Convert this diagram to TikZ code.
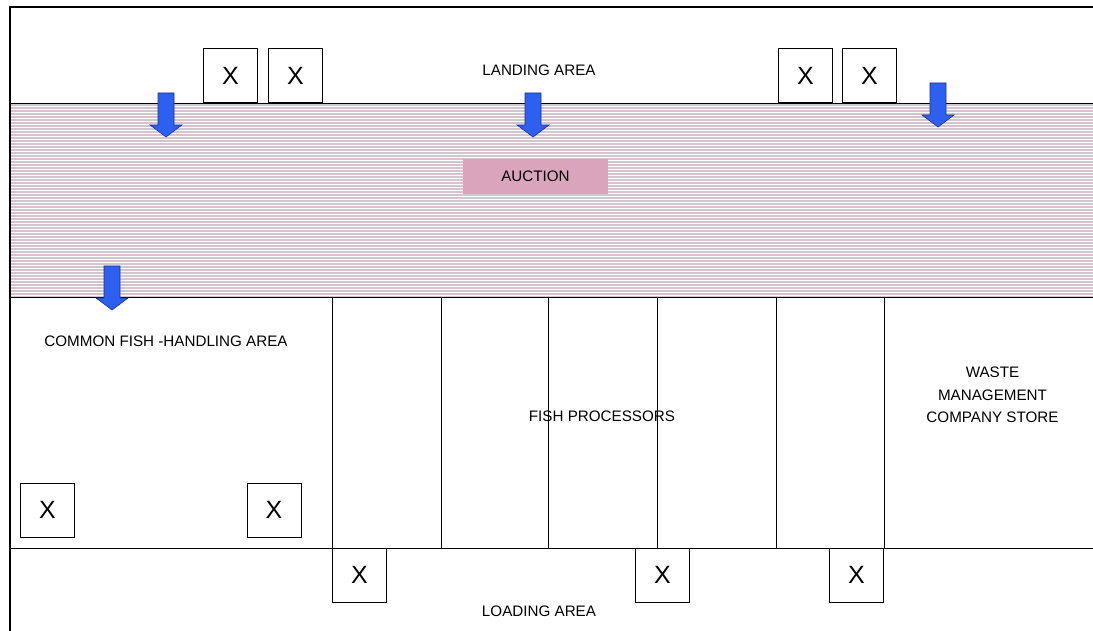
\documentclass[tikz,border=0pt]{standalone}
\usepackage{fontspec}
\setmainfont{Liberation Sans}
\usepackage{tikz}
\usetikzlibrary{positioning}

\definecolor{stripepink}{RGB}{212,196,208}
\definecolor{auctionpink}{RGB}{218,164,188}
\definecolor{arrowblue}{RGB}{45,95,240}
\definecolor{arrowedge}{RGB}{30,50,140}

\tikzset{
  label/.style={font=\fontsize{15.2}{22.5}\selectfont, align=center, inner sep=0pt},
  xbox/.style={draw, line width=1pt, fill=white, minimum width=54pt, minimum height=54pt,
               inner sep=0pt, font=\fontsize{25}{25}\selectfont},
  stripe/.style={stripepink, line width=1.2pt},
  wall/.style={line width=1pt},
  blockarrow/.style={fill=arrowblue, draw=arrowedge, line width=0.6pt}
}

\begin{document}
\begin{tikzpicture}[x=1pt, y=-1pt]
                \useasboundingbox (0,0) rectangle (1093,631);

                % Auction hall (striped band)
                \foreach \y in {105,108,...,297}
                  \draw[stripe] (10,\y) -- (1093,\y);
                \draw[wall] (10,104) -- (1093,104);
                \draw[wall] (10,298) -- (1093,298);

                % Outer frame
                \draw[line width=1.8pt] (1093,7) -- (10,7) -- (10,631);

                % Processing and loading rows
                \draw[wall] (10,548) -- (1093,548);
                \foreach \x in {332,441,548,657,776,884}
                  \draw[wall] (\x,298) -- (\x,548);

                % Landing area
                \node[label] (landing) at (539,70) {LANDING AREA};
                \node[xbox] (land1) at (230.5,76) {X};
                \node[xbox] (land2) at (295.5,76) {X};
                \node[xbox] (land3) at (805.5,76) {X};
                \node[xbox] (land4) at (869.5,76) {X};

                % Auction
                \node[label, fill=auctionpink, minimum width=145pt, minimum height=35pt]
                  (auction) at (535.5,176.5) {AUCTION};

                % Flow arrows
                \foreach \cx/\ty in {166/93, 533/93, 938/83, 112/266}
                  \draw[blockarrow] (\cx-8,\ty) -- (\cx+8,\ty) -- (\cx+8,\ty+32)
                    -- (\cx+16,\ty+32) -- (\cx,\ty+44) -- (\cx-16,\ty+32)
                    -- (\cx-8,\ty+32) -- cycle;

                % Common fish-handling area
                \node[label] (common) at (166,341) {COMMON FISH -HANDLING AREA};
                \node[xbox] (common1) at (47.5,510) {X};
                \node[xbox] (common2) at (274,510) {X};

                % Fish processors
                \node[label] (processors) at (602,416) {FISH PROCESSORS};

                % Waste store
                \node[label] (waste) at (992.5,395) {WASTE\\MANAGEMENT\\COMPANY STORE};

                % Loading area
                \node[label] (loading) at (539,611) {LOADING AREA};
                \node[xbox] (load1) at (359.5,575) {X};
                \node[xbox] (load2) at (662.5,575) {X};
                \node[xbox] (load3) at (856.5,575) {X};
            \end{tikzpicture}
\end{document}
